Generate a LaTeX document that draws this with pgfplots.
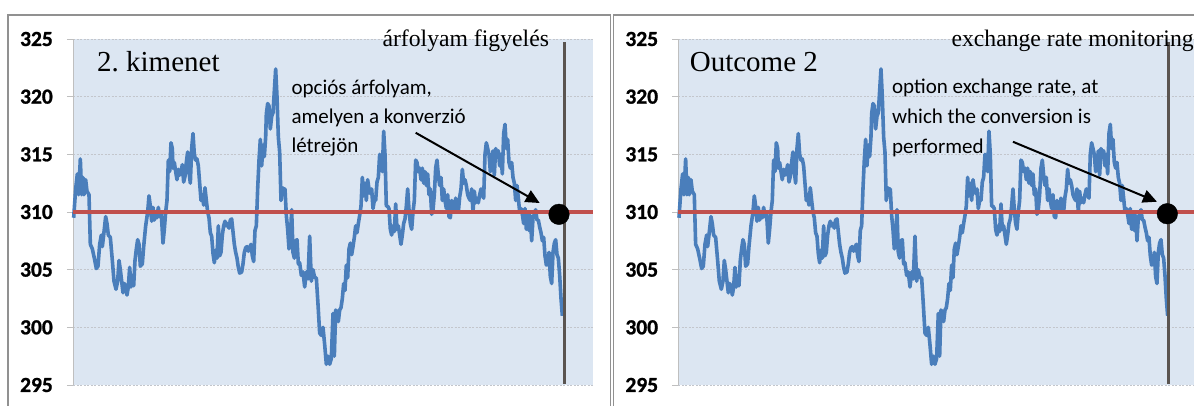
\documentclass[border=0pt]{standalone}
\usepackage{fontspec}
\usepackage{pgfplots}
\pgfplotsset{compat=1.18}
\usepackage{pgfplotstable}
\usetikzlibrary{arrows.meta}
\setmainfont{Liberation Serif}
\newfontfamily\calfont{Carlito}
\newfontfamily\calbold{Carlito}[UprightFont={* Bold}, UprightFeatures={FakeBold=1}]
\definecolor{bgblue}{RGB}{220,230,242}
\definecolor{lineblue}{RGB}{74,126,187}
\definecolor{linered}{RGB}{192,80,77}
\definecolor{vline}{RGB}{90,84,80}
\definecolor{framegray}{RGB}{145,145,145}
\definecolor{gridgray}{RGB}{195,198,204}

\pgfplotstableread{
U y
222 309.5
228 312
233 313.3
237 311.5
242 314.6
246 311.5
250 313
253 311.5
258 312.8
262 311.8
268 311.5
272 307.2
278 306.8
284 306
290 305.1
295 305.3
300 307.2
305 308
308 307
312 308
318 309.6
322 309
326 308
332 307.8
338 305.8
343 304
349 303.3
354 304
358 305.8
362 305
366 304
370 303
374 303.8
378 303.6
382 302.8
386 303.5
390 305.2
394 303.5
398 304.5
402 303.6
406 305.8
410 306.8
414 307.6
418 307.2
422 305.3
428 305.5
432 307
438 308.8
444 310
448 311.4
452 310.5
456 309.2
460 310.4
464 309.3
468 310
472 309.5
476 310.4
480 309.6
485 309.8
490 307.3
494 308.5
498 310
502 311
506 314.5
510 313.5
514 316
518 315.5
520 313.8
524 314.3
528 313.5
532 312.8
536 313.7
540 313.2
544 313.5
548 314.1
552 312.6
556 313.1
560 314.3
564 315.2
568 313.5
572 312.5
576 315.5
580 316.8
584 315
588 314.5
592 314.6
596 314
600 312.5
604 311
608 311.5
612 310.6
616 312.1
620 311
624 310
628 309.5
632 308.2
636 307.9
640 306.4
644 305.6
648 306.7
652 306
656 308.8
660 306.2
664 306.5
668 308
672 308.8
676 309.2
680 308.8
684 309
688 308.6
692 309.3
696 309.4
700 308.3
704 307.2
708 306.5
712 306
716 305.2
720 304.7
726 304.8
730 305.5
734 306.5
738 306.9
742 307
746 306.6
750 306.9
754 307.2
758 306.2
762 305.7
766 308.4
770 308.8
774 312
778 314.5
782 316.3
786 314
790 315.8
794 314.8
798 316.5
800 318.5
804 319.4
808 319.2
812 317.2
816 318.3
820 318.6
824 320.5
828 322.4
832 320
836 316.5
840 315.2
844 311
848 312.1
852 312
856 312
860 309.7
864 308.5
868 306.8
872 307.8
876 310.2
880 306.5
884 306
888 307.5
892 307.6
896 305.5
900 305.6
905 304.5
910 304.8
915 303.5
920 304.8
925 304.2
930 307.9
935 304
940 305
945 304.3
950 304.3
955 302
960 299.5
965 299.3
970 300
975 298.5
980 296.8
985 297.5
990 296.8
995 297.3
1000 301.2
1004 297.5
1008 301.5
1012 301.3
1016 300.5
1020 301.5
1024 301.7
1028 302.5
1032 303.8
1036 303.2
1040 305.4
1044 304.3
1048 306.8
1052 307.3
1056 306.3
1060 307
1064 307.8
1068 308.8
1072 308.2
1076 309
1080 309.7
1084 310.5
1088 313
1092 311.4
1096 312.5
1100 311
1104 312.8
1108 312
1112 311.6
1116 312
1120 310.3
1124 311
1128 311
1132 312.6
1136 313
1140 315
1144 314.2
1148 313.5
1152 317
1156 315
1160 310.5
1164 310.5
1168 310.3
1172 308.5
1176 308
1180 308.8
1184 308.3
1188 310.7
1192 308.5
1196 308.8
1200 308
1204 307.2
1208 308
1212 309
1216 309.4
1220 310.5
1224 312
1228 310.2
1232 309
1236 308.5
1240 310
1244 311
1248 314.5
1252 314.3
1256 313.5
1260 313.8
1264 312.8
1268 313.8
1272 312.5
1276 313.5
1280 312.3
1284 313.3
1288 311.5
1292 312
1296 309.8
1300 310.2
1304 311.5
1308 313.8
1312 314.5
1316 313.2
1320 312.3
1324 313
1328 311
1332 312
1336 311
1340 310.3
1344 311.5
1348 309.6
1352 309.5
1356 311
1360 310.2
1364 310
1368 311.2
1372 310.5
1376 310
1380 311.3
1384 312
1388 313.7
1392 312.5
1396 312.8
1400 312.3
1404 311.5
1408 311.2
1412 311
1416 312
1420 310
1424 311.8
1428 310.8
1432 311.2
1436 310.8
1440 311.5
1444 312
1448 311.5
1452 311.2
1456 315
1460 316
1464 315.5
1468 315
1472 313.5
1476 314
1480 315.3
1484 313.2
1488 315.5
1492 315.1
1496 315.3
1500 314
1504 315
1508 313.3
1512 316.8
1516 317.6
1520 315.5
1524 316.3
1528 314.3
1532 313.8
1536 314.3
1540 313
1544 312.5
1548 311
1552 312.3
1556 311.2
1560 310
1564 310.3
1568 309.8
1572 309
1576 310.3
1580 308.5
1584 310
1588 308.4
1592 309.7
1596 307.5
1600 309.5
1604 309.8
1608 310.2
1612 309.3
1616 309.3
1620 308.7
1624 308.2
1628 307.5
1632 307.8
1636 306.2
1640 305.4
1644 305.5
1648 306.5
1652 304.4
1656 303.8
1660 306.5
1664 307.3
1668 307.6
1672 306.3
1676 306
1680 304.5
1684 302.5
1688 301
}\ratedata

\pgfplotsset{panel/.style={
  scale only axis, width=520pt, height=346pt,
  xmin=220, xmax=1780, ymin=295, ymax=325,
  axis x line=none, axis y line*=left,
  ytick={295,300,...,325},
  ymajorgrids,
  grid style={draw=gridgray, dash pattern=on 2pt off 1.5pt, line width=0.9pt},
  axis line style={draw=gray!50, line width=1pt},
  tick align=outside, major tick length=6pt,
  tick style={draw=gray!50, line width=1pt},
  /pgf/number format/assume math mode=true,
  yticklabel={\calbold\fontsize{21.5}{22}\selectfont\pgfmathprintnumber{\tick}},
  yticklabel style={inner sep=0pt, anchor=east, xshift=-14pt},
  axis background/.style={fill=bgblue},
  clip=false,
}}

\begin{document}
\begin{tikzpicture}
\path[use as bounding box] (0,0) rectangle (1194pt,405pt);
\draw[framegray, line width=1.5pt] (8pt,-5pt) -- (8pt,390pt) -- (610.7pt,390pt) -- (610.7pt,-5pt);
\draw[framegray, line width=1.5pt] (613.3pt,-5pt) -- (613.3pt,390pt) -- (1200pt,390pt);

% ---------- left panel (Hungarian) ----------
\begin{axis}[panel, at={(73pt,20pt)}, anchor=south west]
\addplot[lineblue, line width=3.6pt, line join=round] table[x=U,y=y]{\ratedata};
\addplot[linered, line width=3.5pt] coordinates {(220,310) (1780,310)};
\addplot[vline, line width=3pt] coordinates {(1693,324.7) (1693,295.1)};
\addplot[only marks, mark=*, mark size=10.3pt, black] coordinates {(1678,309.8)};
\draw[-{Triangle[length=14pt,width=13pt]}, line width=2pt] (axis cs:1248,316.87) -- (axis cs:1620,310.78);
\node[anchor=base west, inner sep=0pt, font=\fontsize{29}{30}\selectfont] at (axis cs:292,322.16) {2.\ kimenet};
\node[anchor=base west, inner sep=0pt, font=\fontsize{23.7}{25}\selectfont] at (axis cs:1148,324.39) {árfolyam figyelés};
\node[anchor=base west, inner sep=0pt, font=\calfont\fontsize{21}{22}\selectfont] at (axis cs:875,320.23) {opciós árfolyam,};
\node[anchor=base west, inner sep=0pt, font=\calfont\fontsize{21}{22}\selectfont] at (axis cs:875,317.69) {amelyen a konverzió};
\node[anchor=base west, inner sep=0pt, font=\calfont\fontsize{21}{22}\selectfont] at (axis cs:875,315.14) {létrejön};
\end{axis}

% ---------- right panel (English) ----------
\begin{axis}[panel, at={(678.3pt,20pt)}, anchor=south west]
\addplot[lineblue, line width=3.6pt, line join=round] table[x=U,y=y]{\ratedata};
\addplot[linered, line width=3.5pt] coordinates {(220,310) (1780,310)};
\addplot[vline, line width=3pt] coordinates {(1691,324.7) (1691,295.1)};
\addplot[only marks, mark=*, mark size=10.3pt, black] coordinates {(1687,309.85)};
\draw[-{Triangle[length=14pt,width=13pt]}, line width=2pt] (axis cs:1224,316.09) -- (axis cs:1656,310.89);
\node[anchor=base west, inner sep=0pt, font=\fontsize{29}{30}\selectfont] at (axis cs:254,322.16) {Outcome 2};
\node[anchor=base west, inner sep=0pt, font=\fontsize{23.7}{25}\selectfont] at (axis cs:1039,324.39) {exchange rate monitoring};
\node[anchor=base west, inner sep=0pt, font=\calfont\fontsize{21}{22}\selectfont] at (axis cs:861,320.26) {option exchange rate, at};
\node[anchor=base west, inner sep=0pt, font=\calfont\fontsize{21}{22}\selectfont] at (axis cs:861,317.69) {which the conversion is};
\node[anchor=base west, inner sep=0pt, font=\calfont\fontsize{21}{22}\selectfont] at (axis cs:861,315.05) {performed};
\end{axis}
\end{tikzpicture}
\end{document}
